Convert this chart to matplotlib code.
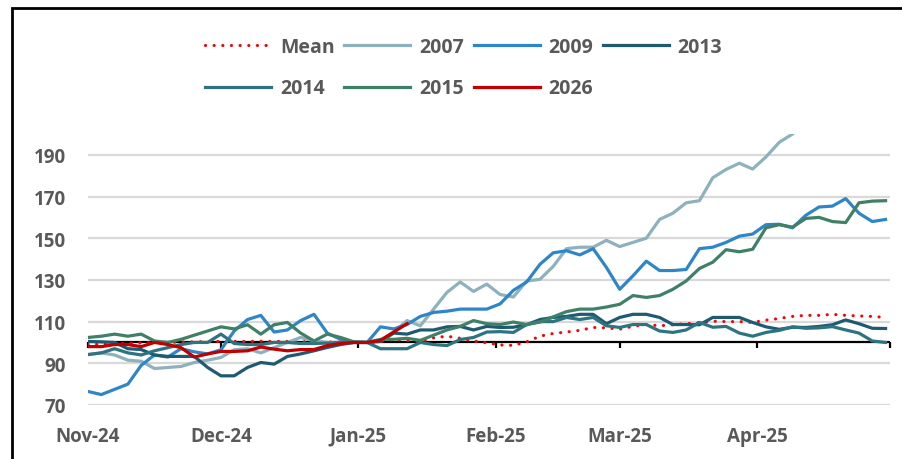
import numpy as np
import pandas as pd
import matplotlib
matplotlib.use('Agg')
import matplotlib.pyplot as plt
from matplotlib.patches import Rectangle

# every third calendar day, Nov 1 -> Apr 30 (seasonal overlay, rebased to 100 at start of Jan)
dates = pd.date_range('2024-11-01', '2025-04-30', freq='3D')

mean = [99.0, 99.2, 99.5, 99.6, 99.8, 100.0, 100.0, 100.2, 100.3, 100.4,
        100.5, 100.5, 100.5, 100.6, 100.5, 100.5, 100.4, 100.3, 100.2, 100.1,
        100.0, 100.0, 100.5, 101.4, 101.0, 100.5, 102.2, 103.0, 102.0, 100.7,
        99.8, 98.8, 98.6, 100.3, 103.0, 104.3, 105.0, 105.8, 107.2, 107.0,
        106.4, 107.7, 108.6, 108.0, 108.5, 109.0, 109.5, 110.2, 110.0, 110.0,
        109.6, 110.7, 111.5, 112.5, 113.0, 113.0, 113.5, 113.0, 112.7, 112.5,
        112.0]
y2007 = [94.2, 95.0, 94.0, 91.5, 91.0, 87.5, 88.0, 88.5, 90.4, 91.5,
         92.8, 96.5, 97.0, 95.0, 97.5, 100.0, 102.4, 100.8, 100.0, 100.0,
         100.0, 100.0, 101.0, 105.0, 110.5, 108.0, 116.0, 124.0, 129.0, 124.5,
         128.0, 123.0, 121.8, 129.5, 130.3, 136.5, 145.0, 145.7, 145.7, 149.0,
         146.0, 148.0, 150.0, 159.0, 162.0, 167.0, 168.0, 179.0, 183.0, 186.0,
         183.2, 189.0, 196.0, 200.0]
y2009 = [76.5, 75.0, 77.5, 80.0, 89.0, 94.0, 93.0, 97.0, 95.5, 94.5,
         96.5, 105.5, 111.0, 113.0, 105.0, 106.0, 110.5, 113.5, 104.5, 101.5,
         100.0, 100.0, 107.5, 106.5, 108.6, 112.5, 114.4, 115.0, 116.0, 116.0,
         116.0, 118.5, 125.0, 129.0, 137.5, 143.0, 144.0, 142.0, 145.0, 136.0,
         125.5, 132.0, 139.0, 134.5, 134.5, 135.0, 145.0, 145.7, 148.0, 151.0,
         152.0, 156.5, 156.7, 155.0, 161.0, 165.0, 165.4, 169.0, 162.0, 158.0,
         159.0]
y2013 = [100.5, 100.3, 100.0, 97.0, 96.6, 94.0, 93.3, 93.3, 93.3, 88.0,
         84.0, 84.0, 88.0, 90.4, 89.6, 93.3, 94.5, 96.0, 97.6, 99.0,
         100.0, 100.0, 100.5, 104.5, 104.0, 106.0, 106.0, 107.5, 107.7, 106.0,
         107.7, 107.2, 107.3, 108.5, 111.0, 112.0, 112.5, 113.5, 113.5, 109.0,
         112.0, 113.5, 113.5, 112.0, 108.6, 108.6, 108.5, 112.0, 112.0, 112.0,
         109.6, 107.5, 106.3, 107.3, 107.2, 107.7, 108.5, 110.8, 109.0, 106.8,
         106.7]
y2014 = [94.2, 95.0, 97.0, 95.0, 94.0, 96.0, 97.5, 99.0, 100.0, 100.0,
         104.0, 99.5, 99.0, 99.0, 100.0, 100.0, 99.5, 99.5, 99.7, 100.0,
         100.0, 100.0, 97.0, 97.0, 97.0, 100.0, 99.0, 98.5, 101.4, 102.4,
         105.0, 105.2, 104.8, 108.6, 110.0, 110.0, 112.0, 111.0, 112.0, 108.0,
         107.2, 108.6, 108.6, 105.5, 104.8, 106.0, 109.6, 107.3, 107.7, 104.5,
         103.0, 104.8, 105.8, 107.5, 106.8, 107.0, 107.6, 106.0, 104.5, 100.7,
         100.0]
y2015 = [102.4, 103.0, 104.0, 103.0, 104.0, 100.7, 100.0, 101.5, 103.5, 105.5,
         107.5, 106.5, 108.5, 104.0, 108.5, 109.6, 104.5, 100.7, 104.0, 102.4,
         100.3, 100.0, 101.5, 101.5, 102.0, 101.0, 103.5, 106.0, 107.7, 110.5,
         109.0, 108.6, 109.8, 108.6, 109.8, 112.3, 114.8, 116.0, 116.0, 117.0,
         118.3, 122.5, 121.6, 122.5, 125.5, 129.5, 135.5, 138.5, 144.5, 143.5,
         144.7, 155.0, 156.5, 155.3, 159.5, 160.0, 158.0, 157.5, 167.0, 167.8,
         168.0]
y2026 = [98.0, 98.0, 99.0, 99.0, 98.0, 100.0, 99.0, 97.5, 93.0, 94.5,
         95.7, 95.7, 96.0, 97.8, 96.8, 96.0, 96.6, 96.6, 98.5, 99.5,
         100.0, 100.0, 101.0, 105.0, 109.0]

series = [
    ('Mean', mean, '#FF0000'),
    ('2007', y2007, '#8DB1BD'),
    ('2009', y2009, '#2E86C8'),
    ('2013', y2013, '#1E5B73'),
    ('2014', y2014, '#2D7480'),
    ('2015', y2015, '#3F8066'),
    ('2026', y2026, '#C00000'),
]
month_ticks = pd.to_datetime(['2024-11-01', '2024-12-01', '2025-01-01', '2025-02-01',
                              '2025-03-01', '2025-04-01', '2025-05-01'])
month_labels = ['Nov-24', 'Dec-24', 'Jan-25', 'Feb-25', 'Mar-25', 'Apr-25', '']

plt.rcParams['font.family'] = ['Open Sans', 'DejaVu Sans']
grey = '#595959'

fig = plt.figure(figsize=(9.02, 4.60), dpi=100)
ax = fig.add_axes([88 / 902, 54 / 460, 802 / 902, 271 / 460])

handles = {}
for name, vals, col in series:
    if name == 'Mean':
        h, = ax.plot(dates[:len(vals)], vals, color=col, lw=2.3,
                     linestyle=(0, (0.01, 2.7)), dash_capstyle='round', zorder=3)
    else:
        h, = ax.plot(dates[:len(vals)], vals, color=col, lw=2.3,
                     solid_joinstyle='round', zorder=3)
    handles[name] = h

ax.set_ylim(70, 200)
ax.set_xlim(month_ticks[0], month_ticks[-1])
ax.set_yticks(np.arange(70, 191, 20))
ax.yaxis.grid(True, color='#D9D9D9', lw=1.6)
ax.set_axisbelow(True)
for s in ax.spines.values():
    s.set_visible(False)

ax.set_xticks(month_ticks)
ax.set_xticklabels(month_labels)
ax.tick_params(axis='x', length=0, pad=15, labelsize=13.5, labelcolor=grey)
ax.tick_params(axis='y', length=0, pad=16, labelsize=13.5, labelcolor=grey)
for lab in ax.get_xticklabels() + ax.get_yticklabels():
    lab.set_fontweight('bold')

# horizontal axis crossing at 100
ax.axhline(100, color='black', lw=1.6, zorder=2)
sec = ax.secondary_xaxis((100 - 70) / (200 - 70))
sec.set_xticks(month_ticks)
sec.set_xticklabels([])
sec.tick_params(axis='x', direction='out', length=4, width=1.6, color='black')
sec.spines['bottom'].set_visible(False)

order = ['Mean', '2014', '2007', '2015', '2009', '2026', '2013']
leg = fig.legend([handles[k] for k in order], order, ncol=4, frameon=False,
                 loc='upper left', bbox_to_anchor=(205 / 902, 1 - 38 / 460),
                 borderpad=0, borderaxespad=0, handlelength=3.4, handletextpad=0.45,
                 columnspacing=0.5, labelspacing=1.1,
                 prop={'family': ['Open Sans', 'DejaVu Sans'], 'weight': 'bold', 'size': 14})
for t in leg.get_texts():
    t.set_color(grey)

# outer frame of the panel
fig.add_artist(Rectangle((12 / 902, -0.1), 1.2, 1 - 9 / 460 + 0.1,
                         transform=fig.transFigure, fill=False, ec='black', lw=2))

fig.savefig('out.png', dpi=100)
